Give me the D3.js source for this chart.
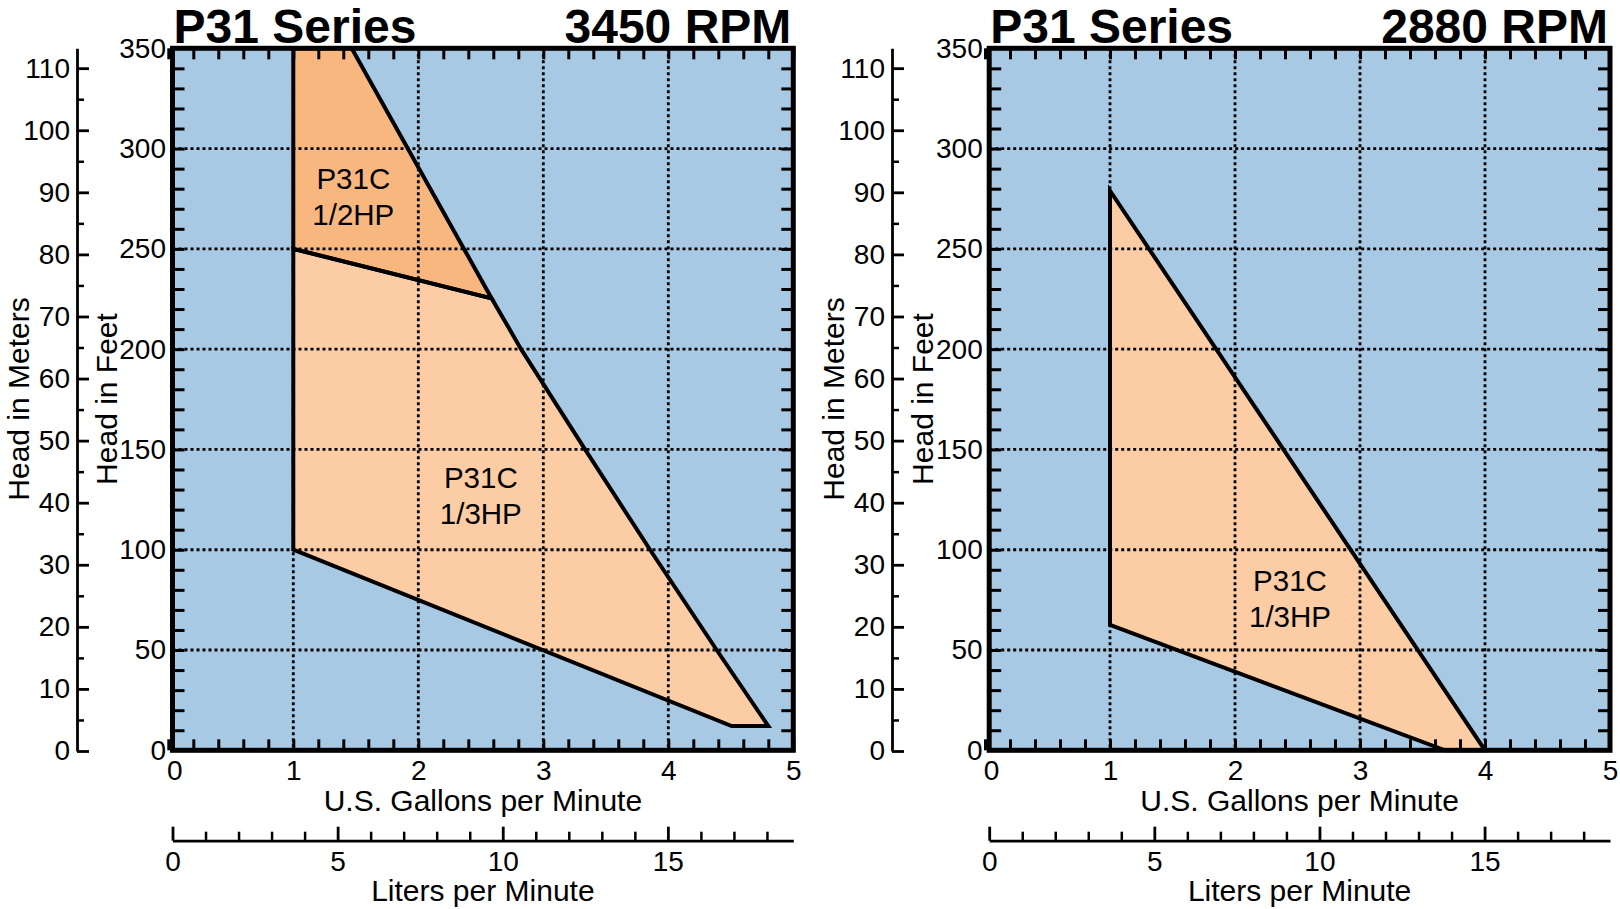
<!DOCTYPE html>
<html><head><meta charset="utf-8">
<script src="https://cdn.jsdelivr.net/npm/d3@7"></script>
<style>
body{margin:0;background:#fff}
svg{display:block}
text{font-family:"Liberation Sans",Arial,Helvetica,sans-serif}
</style>
</head><body>
<svg id="c" width="1620" height="909"></svg>
<script>
// ---------- data ----------
const gpmTicks = [0, 1, 2, 3, 4, 5];
const feetTicks = [0, 50, 100, 150, 200, 250, 300, 350];
const meterTicks = [0, 10, 20, 30, 40, 50, 60, 70, 80, 90, 100, 110];
const literTicks = [0, 5, 10, 15];
const panelTitles = ["P31 Series", "P31 Series"];
const panelRpm = ["3450 RPM", "2880 RPM"];

// 3450 RPM panel regions [gpm, feet]
const left12HP = [[1, 250], [1, 350], [1.467, 350], [2.587, 225.3]];
const left13HP = [[1, 100], [1, 250], [2.587, 225.3], [2.822, 200], [3.334, 150],
                  [3.854, 100], [4.387, 50], [4.8, 12.1], [4.507, 12.1]];
// 2880 RPM panel region
const right13HP = [[1, 62.5], [1, 279], [4, 0], [3.68, 0]];

const regionLabels = [
  {panel: 0, gpm: 1.48, feet: 276, lines: ["P31C", "1/2HP"]},
  {panel: 0, gpm: 2.5, feet: 127, lines: ["P31C", "1/3HP"]},
  {panel: 1, gpm: 2.44, feet: 75.6, lines: ["P31C", "1/3HP"]}
];

// ---------- styles / layout ----------
const BLUE = "#a8c9e4", LIGHT = "#fccda4", DARK = "#f9b780";
const FONT = '"Liberation Sans", Arial, Helvetica, sans-serif';
const W = 625, yTop = 48.3, yBot = 750.3;
const panels = [
  {x0: 168.3, mx: 77, regions: [{pts: left13HP, fill: LIGHT}, {pts: left12HP, fill: DARK}]},
  {x0: 985, mx: 892, regions: [{pts: right13HP, fill: LIGHT}]}
];
const GAL_TO_L = 3.785;

const svg = d3.select("#c");

function styleAxis(g, size) {
  g.attr("font-family", FONT).attr("font-size", size);
  g.selectAll("text").attr("fill", "#000");
}

panels.forEach((p, i) => {
  const x = d3.scaleLinear().domain([0, 5]).range([p.x0, p.x0 + W]);
  const y = d3.scaleLinear().domain([0, 350]).range([yBot, yTop]);
  const ym = d3.scaleLinear().domain([0, 113.2]).range([751, yTop]);
  const fl = x(0) + 4.2, fr = x(5);
  const xl = d3.scaleLinear().domain([0, (fr - fl) / (x(1) - x(0)) * GAL_TO_L]).range([fl, fr]);

  const g = svg.append("g");

  // background
  g.append("rect").attr("x", fl).attr("y", yTop).attr("width", fr - fl).attr("height", yBot - yTop)
    .attr("fill", BLUE);

  // region fills
  const line = d3.line().x(d => x(d[0])).y(d => y(d[1]));
  p.regions.forEach(r => {
    g.append("path").attr("d", line(r.pts) + "Z").attr("fill", r.fill).attr("stroke", "none");
  });

  // dotted grid
  const grid = g.append("g").attr("stroke", "#000").attr("stroke-width", 2.8).attr("stroke-dasharray", "3 3");
  gpmTicks.filter(v => v > 0 && v < 5).forEach(v => {
    grid.append("line").attr("x1", x(v)).attr("x2", x(v)).attr("y1", yTop).attr("y2", yBot);
  });
  feetTicks.filter(v => v > 0 && v < 350).forEach(v => {
    grid.append("line").attr("x1", fl).attr("x2", fr).attr("y1", y(v)).attr("y2", y(v));
  });

  // region outlines
  p.regions.forEach(r => {
    g.append("path").attr("d", line(r.pts) + "Z").attr("fill", "none")
      .attr("stroke", "#000").attr("stroke-width", 4).attr("stroke-linejoin", "miter");
  });

  // region labels
  regionLabels.filter(l => l.panel === i).forEach(l => {
    const t = g.append("text").attr("text-anchor", "middle").attr("font-size", 29.5).attr("fill", "#000");
    l.lines.forEach((s, k) => {
      t.append("tspan").attr("x", x(l.gpm))
        .attr("y", y(l.feet) + (k - (l.lines.length - 1) / 2) * 36.7)
        .attr("dy", "0.35em").text(s);
    });
  });

  // inner ticks
  const minorX = d3.range(0, 26).map(k => k / 5);
  const minorY = d3.range(1, 35).map(k => k * 10);
  const tickStyle = a => { a.select(".domain").remove(); a.selectAll("line").attr("stroke-width", 3); };
  g.append("g").attr("transform", `translate(0,${yBot})`)
    .call(d3.axisTop(x).tickValues(minorX).tickSize(11).tickFormat("")).call(tickStyle);
  g.append("g").attr("transform", `translate(0,${yTop})`)
    .call(d3.axisBottom(x).tickValues(minorX).tickSize(11).tickFormat("")).call(tickStyle);
  g.append("g").attr("transform", `translate(${fl},0)`)
    .call(d3.axisRight(y).tickValues(minorY).tickSize(12).tickFormat("")).call(tickStyle);
  g.append("g").attr("transform", `translate(${fr},0)`)
    .call(d3.axisLeft(y).tickValues(minorY).tickSize(12).tickFormat("")).call(tickStyle);

  // frame
  g.append("rect").attr("x", fl).attr("y", yTop).attr("width", fr - fl).attr("height", yBot - yTop)
    .attr("fill", "none").attr("stroke", "#000").attr("stroke-width", 5);

  // gallons labels
  const ga = g.append("g").attr("transform", `translate(0,${yBot})`)
    .call(d3.axisBottom(x).tickValues(gpmTicks).tickFormat(d3.format("d")).tickSize(0).tickPadding(10));
  ga.select(".domain").remove();
  ga.selectAll(".tick text").attr("x", d => d === 0 ? 6 : 0);
  styleAxis(ga, 28);

  // feet labels
  const fa = g.append("g").attr("transform", `translate(${fl},0)`)
    .call(d3.axisLeft(y).tickValues(feetTicks).tickSize(0).tickPadding(6.5));
  fa.select(".domain").remove();
  styleAxis(fa, 28);

  // meters axis
  const ma = g.append("g").attr("transform", `translate(${p.mx},0)`)
    .call(d3.axisLeft(ym).tickValues(meterTicks).tickSize(-12).tickSizeOuter(0).tickPadding(7));
  ma.select(".domain").attr("stroke-width", 2.8);
  ma.selectAll("line").attr("stroke-width", 2.8);
  styleAxis(ma, 28);
  const mm = g.append("g").attr("transform", `translate(${p.mx},0)`)
    .call(d3.axisLeft(ym).tickValues(meterTicks.slice(0, -1).map(v => v + 5)).tickSize(-7).tickFormat(""));
  mm.select(".domain").remove();
  mm.selectAll("line").attr("stroke-width", 2.5);

  // liters axis
  const lyPos = 840.7;
  const la = g.append("g").attr("transform", `translate(0,${lyPos})`)
    .call(d3.axisBottom(xl).tickValues(literTicks).tickSize(-14).tickSizeOuter(0).tickPadding(10));
  la.select(".domain").attr("stroke-width", 2.8);
  la.selectAll("line").attr("stroke-width", 2.8);
  styleAxis(la, 28);
  const lm = g.append("g").attr("transform", `translate(0,${lyPos})`)
    .call(d3.axisBottom(xl).tickValues(d3.range(1, 19).filter(v => v % 5 !== 0)).tickSize(-9).tickFormat(""));
  lm.select(".domain").remove();
  lm.selectAll("line").attr("stroke-width", 2.5);

  // titles
  g.append("text").attr("x", fl + 1).attr("y", 43).attr("font-size", 48).attr("font-weight", "bold")
    .attr("fill", "#000").text(panelTitles[i]);
  g.append("text").attr("x", fr - 2).attr("y", 43).attr("font-size", 48).attr("font-weight", "bold")
    .attr("text-anchor", "end").attr("fill", "#000").text(panelRpm[i]);

  // axis titles
  const cx = (fl + fr) / 2;
  g.append("text").attr("x", cx).attr("y", 811).attr("text-anchor", "middle").attr("font-size", 30)
    .attr("fill", "#000").text("U.S. Gallons per Minute");
  g.append("text").attr("x", cx).attr("y", 901).attr("text-anchor", "middle").attr("font-size", 30)
    .attr("fill", "#000").text("Liters per Minute");
  g.append("text").attr("transform", `translate(${p.mx - 59},399) rotate(-90)`)
    .attr("text-anchor", "middle").attr("dy", "0.35em").attr("font-size", 30).attr("fill", "#000")
    .text("Head in Meters");
  g.append("text").attr("transform", `translate(${fl - 66.5},399) rotate(-90)`)
    .attr("text-anchor", "middle").attr("dy", "0.35em").attr("font-size", 30).attr("fill", "#000")
    .text("Head in Feet");
});
</script>
</body></html>
